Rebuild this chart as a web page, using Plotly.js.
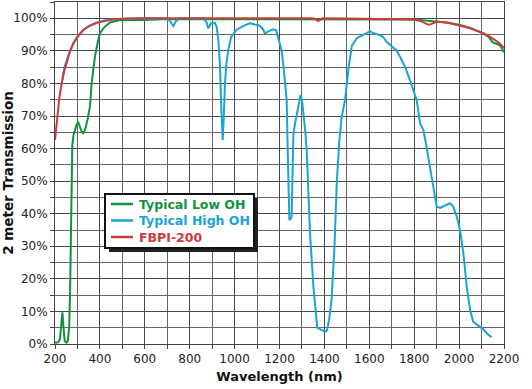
<!DOCTYPE html>
<html>
<head>
<meta charset="utf-8">
<script src="https://cdn.plot.ly/plotly-3.0.1.min.js"></script>
<style>html,body{margin:0;padding:0;background:#fff;}#chart{width:532px;height:389px;}</style>
</head>
<body>
<div id="chart"></div>
<script>
// Wavelength (nm) and transmission (%)
var lowOH_nm = [200,207,215,222,228,233,238,243,250,255,258,263,267,270,273,277,282,290,297,304,312,320,326,335,345,356,363,370,378,390,400,420,445,490,600,700,800,1000,1200,1400,1600,1800,1850,1900,1950,2000,2050,2100,2130,2150,2160,2180,2190,2200];
var lowOH_T  = [0.6,0.4,0.6,1.5,6,9.7,5,1,0.4,0.6,1.5,5,15,29,50,61,64,66,67.5,68,66.5,65,64.7,66,69,73,80,85,88.3,92.5,95.4,97.3,98.7,99.5,99.5,99.8,99.8,99.8,99.8,99.8,99.8,99.6,99.3,99,98.6,98,97,95.6,94.4,92.6,92.3,91.8,90.8,89.6];

var highOH_nm = [228,235,242,252,265,282,300,326,350,386,420,460,520,600,700,712,727,740,760,860,875,883,895,905,912,920,928,935,941,947,952,957,964,972,985,1009,1040,1069,1090,1110,1125,1135,1150,1172,1185,1200,1210,1218,1225,1232,1238,1244,1250,1254,1258,1262,1270,1277,1285,1294,1300,1306,1314,1321,1336,1351,1368,1390,1405,1412,1422,1432,1445,1455,1466,1477,1492,1508,1522,1544,1565,1585,1603,1620,1640,1660,1677,1700,1720,1737,1760,1781,1795,1811,1826,1841,1855,1870,1885,1900,1915,1930,1945,1959,1974,1990,2004,2019,2034,2049,2063,2078,2093,2108,2123,2135,2145];
var highOH_T  = [79.5,82.5,85,87,89.7,92.5,94.4,96.5,97.6,98.7,99.3,99.7,99.9,100,99.9,99.2,97.6,99.3,100,100,98.8,96.9,98.5,98.4,98.6,97.4,93,85,72,62.6,70,80,86.5,90.3,94.3,96.5,97.7,98.5,98.1,97.8,96.8,95.4,96,96.6,96.3,92.5,90,85,80,74.9,55,38,38.5,39,52,64.7,68,70.8,74,76.5,75,71.8,66,59.6,34,17.6,5,4.2,3.8,4.2,8,13.5,30,49.3,62,69.8,74.9,85,91.5,93.9,94.8,95.4,96,95.4,95,94.4,92.8,91.5,90.2,88.2,85,81,78,74.9,67.8,65.7,60.5,54.4,48,42.2,41.8,42.3,42.8,43.2,42.2,39,35,27.9,17.6,10.4,6.8,6,5.3,4.5,3.3,2.6,2.1];

var fbpi_nm = [200,205,210,220,230,240,252,265,282,300,326,350,386,420,460,520,600,800,1000,1200,1350,1362,1370,1377,1385,1392,1500,1700,1800,1830,1850,1863,1875,1890,1901,1950,2004,2050,2108,2130,2160,2180,2200];
var fbpi_T  = [62.6,66.5,70,76,80,83.5,86.2,89.5,92.3,94.2,96.4,97.5,98.6,99.2,99.7,99.9,100,100,100,100,100,99.7,99.2,99.3,99.6,100,99.9,99.8,99.6,99.1,98.3,98,98.2,98.7,99,98.6,97.6,96.9,95.4,94.7,93.3,92.3,90.9];

var seriesNames = ['Typical Low OH','Typical High OH','FBPI-200'];
var seriesColors = ['#13923e','#1ba3d9','#cf3b3b'];
var xTickLabels = ['200','400','600','800','1000','1200','1400','1600','1800','2000','2200'];
var xTickVals = [200,400,600,800,1000,1200,1400,1600,1800,2000,2200];

var FONT = 'DejaVu Sans, Verdana, sans-serif';
var W = 532, H = 389, M = {l:55, r:28, t:2, b:45};
var PW = W - M.l - M.r, PH = H - M.t - M.b;
// pixel -> paper helpers for the legend box decoration
function px(x){ return (x - M.l)/PW; }
function py(y){ return 1 - (y - M.t)/PH; }

var traces = [
  {x: lowOH_nm, y: lowOH_T, name: seriesNames[0], mode:'lines', line:{color:seriesColors[0], width:2}},
  {x: highOH_nm, y: highOH_T, name: seriesNames[1], mode:'lines', line:{color:seriesColors[1], width:2}},
  {x: fbpi_nm, y: fbpi_T, name: seriesNames[2], mode:'lines', line:{color:seriesColors[2], width:2}}
];

// Legend drawn as a boxed panel with a drop shadow
var LB = {x0:105, x1:254, y0:194, y1:248};
var shapes = [
  {type:'rect', xref:'paper', yref:'paper', x0:px(LB.x0+4), x1:px(LB.x1+4), y0:py(LB.y1+4), y1:py(LB.y0+4), fillcolor:'#222', line:{width:0}, layer:'above'},
  {type:'rect', xref:'paper', yref:'paper', x0:px(LB.x0), x1:px(LB.x1), y0:py(LB.y1), y1:py(LB.y0), fillcolor:'#ffffff', line:{color:'#111', width:2}, layer:'above'}
];
var annotations = [];
var rowY = [204, 220.5, 237];
for (var i = 0; i < seriesNames.length; i++) {
  shapes.push({type:'line', xref:'paper', yref:'paper', x0:px(111), x1:px(133), y0:py(rowY[i]), y1:py(rowY[i]), line:{color:seriesColors[i], width:2.5}, layer:'above'});
  annotations.push({xref:'paper', yref:'paper', x:px(137), y:py(rowY[i]), xanchor:'left', yanchor:'middle', showarrow:false,
    text:'<b>'+seriesNames[i]+'</b>', font:{family:FONT, size:12.5, color:seriesColors[i]}});
}

var layout = {
  width: W, height: H,
  margin: {l:M.l, r:M.r, t:M.t, b:M.b, pad:0},
  paper_bgcolor:'#ffffff', plot_bgcolor:'#ffffff',
  font: {family: FONT, color:'#222', size:12},
  showlegend: false,
  xaxis: {
    range:[200,2200], tickmode:'array', tickvals:xTickVals, ticktext:xTickLabels,
    showgrid:true, gridcolor:'#4a4a4a', gridwidth:1,
    ticks:'outside', ticklen:4, tickcolor:'#444',
    showline:true, linecolor:'#444', linewidth:1, mirror:true,
    zeroline:false,
    minor:{dtick:100, tick0:200, showgrid:true, gridcolor:'#666', gridwidth:1, ticks:'outside', ticklen:4, tickcolor:'#444'},
    tickfont:{family:FONT, size:12, color:'#222'},
    title:{text:'Wavelength (nm)', font:{family:FONT, size:13, weight:'bold', color:'#111'}, standoff:6}
  },
  yaxis: {
    range:[0,105], dtick:10, tick0:0, ticksuffix:'%',
    showgrid:true, gridcolor:'#4a4a4a', gridwidth:1,
    ticks:'outside', ticklen:4, tickcolor:'#444',
    showline:true, linecolor:'#444', linewidth:1, mirror:true,
    zeroline:false,
    minor:{dtick:5, tick0:0, showgrid:true, gridcolor:'#666', gridwidth:1, ticks:'outside', ticklen:4, tickcolor:'#444'},
    tickfont:{family:FONT, size:12, color:'#222'},
    title:{text:'2 meter Transmission', font:{family:FONT, size:13.5, weight:'bold', color:'#111'}, standoff:4}
  },
  shapes: shapes,
  annotations: annotations
};

Plotly.newPlot('chart', traces, layout, {displayModeBar:false, staticPlot:true});
</script>
</body>
</html>
